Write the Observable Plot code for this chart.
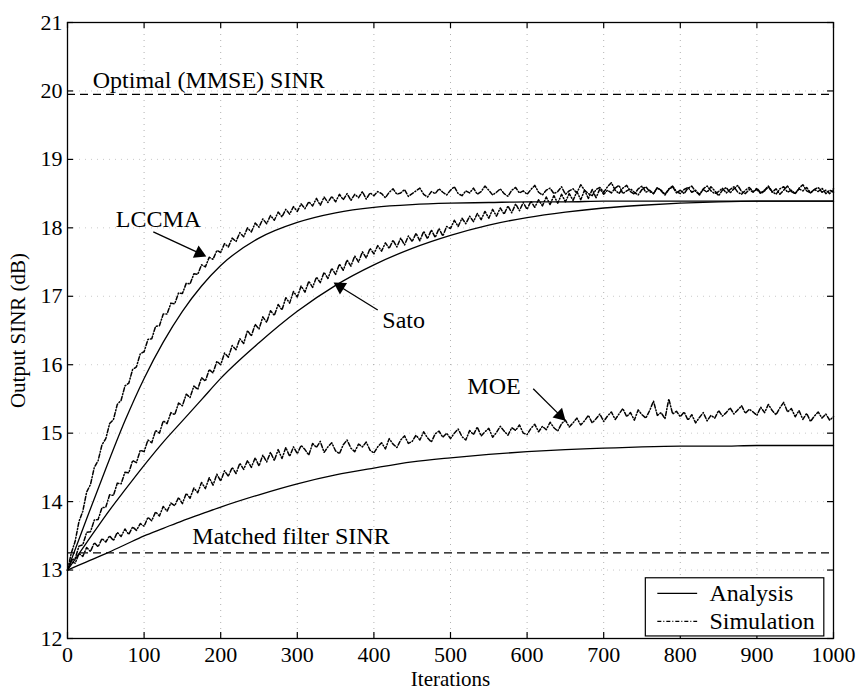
<!DOCTYPE html>
<html>
<head>
<meta charset="utf-8">
<script src="https://cdn.jsdelivr.net/npm/d3@7"></script>
<script src="https://cdn.jsdelivr.net/npm/@observablehq/plot@0.6"></script>
<style>
  body { margin: 0; background: #fff; }
  #chart svg { display: block; }
</style>
</head>
<body>
<div id="chart"></div>
<script>
// Tick values
const xTicks = [0, 100, 200, 300, 400, 500, 600, 700, 800, 900, 1000];
const yTicks = [12, 13, 14, 15, 16, 17, 18, 19, 20, 21];

// Reference SINR levels (dB)
const mmseSINR = 19.95;
const matchedSINR = 13.25;

// Analytical curves, sampled at these iterations
const analysisIter = [0, 25, 50, 75, 100, 125, 150, 175, 200, 250, 300, 350, 400, 450, 500, 550, 600, 650, 700, 750, 800, 850, 900, 950, 1000];
const lccmaAnalysis = [13.0, 13.75, 14.48, 15.18, 15.8, 16.33, 16.78, 17.15, 17.45, 17.85, 18.08, 18.22, 18.3, 18.34, 18.36, 18.37, 18.38, 18.38, 18.39, 18.39, 18.39, 18.39, 18.39, 18.39, 18.39];
const satoAnalysis  = [13.0, 13.4, 13.8, 14.17, 14.53, 14.87, 15.18, 15.49, 15.8, 16.32, 16.78, 17.16, 17.46, 17.7, 17.89, 18.04, 18.15, 18.23, 18.29, 18.33, 18.36, 18.38, 18.39, 18.39, 18.39];
const moeAnalysis   = [13.0, 13.12, 13.24, 13.37, 13.5, 13.61, 13.72, 13.82, 13.92, 14.1, 14.26, 14.39, 14.49, 14.58, 14.64, 14.69, 14.73, 14.76, 14.78, 14.8, 14.81, 14.81, 14.82, 14.82, 14.82];

// Simulated curves, one value every 5 iterations (0 ... 1000)
const simStep = 5;
const lccmaSim = [
  13.0, 13.25, 13.42, 13.71, 13.86, 14.14, 14.25, 14.5, 14.6, 14.83, 14.92, 15.14, 15.2, 15.42, 15.48, 15.69, 15.73, 15.93, 15.97, 16.16,
  16.19, 16.37, 16.38, 16.56, 16.57, 16.74, 16.74, 16.9, 16.89, 17.05, 17.04, 17.19, 17.18, 17.33, 17.32, 17.46, 17.43, 17.57, 17.54, 17.67,
  17.64, 17.77, 17.72, 17.85, 17.8, 17.93, 17.87, 18.0, 17.94, 18.07, 18.01, 18.13, 18.06, 18.18, 18.11, 18.23, 18.16, 18.27, 18.2, 18.31,
  18.24, 18.35, 18.28, 18.38, 18.32, 18.43, 18.33, 18.45, 18.37, 18.46, 18.38, 18.49, 18.41, 18.5, 18.4, 18.49, 18.44, 18.53, 18.42, 18.51,
  18.47, 18.53, 18.5, 18.44, 18.52, 18.57, 18.49, 18.51, 18.56, 18.46, 18.5, 18.54, 18.58, 18.49, 18.45, 18.53, 18.5, 18.57, 18.52, 18.48,
  18.55, 18.6, 18.5, 18.47, 18.54, 18.51, 18.58, 18.49, 18.53, 18.61, 18.55, 18.48, 18.52, 18.57, 18.5, 18.46, 18.55, 18.59, 18.51, 18.54,
  18.49, 18.56, 18.62, 18.52, 18.48, 18.55, 18.58, 18.5, 18.53, 18.6, 18.49, 18.54, 18.57, 18.51, 18.63, 18.55, 18.5, 18.47, 18.56, 18.59,
  18.52, 18.6, 18.66, 18.55, 18.5, 18.58, 18.62, 18.53, 18.49, 18.57, 18.61, 18.52, 18.55, 18.5, 18.59, 18.54, 18.48, 18.56, 18.6, 18.51,
  18.55, 18.5, 18.58, 18.61, 18.53, 18.49, 18.56, 18.52, 18.6, 18.54, 18.47, 18.55, 18.59, 18.51, 18.57, 18.62, 18.53, 18.5, 18.56, 18.52,
  18.58, 18.51, 18.55, 18.61, 18.53, 18.49, 18.57, 18.6, 18.52, 18.55, 18.5, 18.58, 18.63, 18.54, 18.51, 18.56, 18.59, 18.52, 18.55, 18.5, 18.57
];
const satoSim = [
  13.0, 13.14, 13.17, 13.35, 13.37, 13.55, 13.56, 13.73, 13.74, 13.91, 13.92, 14.1, 14.09, 14.27, 14.26, 14.43, 14.42, 14.6, 14.57, 14.75,
  14.73, 14.9, 14.86, 15.04, 15.0, 15.18, 15.14, 15.3, 15.27, 15.44, 15.4, 15.57, 15.52, 15.69, 15.64, 15.81, 15.76, 15.93, 15.88, 16.05,
  16.0, 16.17, 16.11, 16.28, 16.22, 16.38, 16.31, 16.5, 16.42, 16.59, 16.52, 16.7, 16.62, 16.79, 16.72, 16.88, 16.8, 16.98, 16.9, 17.07,
  16.99, 17.15, 17.06, 17.22, 17.13, 17.28, 17.2, 17.35, 17.26, 17.41, 17.32, 17.47, 17.38, 17.53, 17.44, 17.59, 17.5, 17.65, 17.56, 17.7,
  17.62, 17.74, 17.66, 17.78, 17.7, 17.82, 17.72, 17.85, 17.75, 17.88, 17.8, 17.92, 17.81, 17.95, 17.84, 17.97, 17.86, 17.99, 17.88, 18.02,
  17.99, 18.11, 18.02, 18.14, 18.06, 18.17, 18.09, 18.21, 18.12, 18.24, 18.14, 18.27, 18.17, 18.29, 18.2, 18.32, 18.22, 18.35, 18.25, 18.37,
  18.27, 18.39, 18.3, 18.41, 18.32, 18.45, 18.34, 18.47, 18.36, 18.49, 18.38, 18.5, 18.4, 18.53, 18.41, 18.55, 18.43, 18.56, 18.44, 18.57,
  18.49, 18.55, 18.51, 18.58, 18.62, 18.5, 18.54, 18.57, 18.52, 18.48, 18.56, 18.6, 18.53, 18.5, 18.58, 18.55, 18.49, 18.57, 18.61, 18.53,
  18.5, 18.56, 18.59, 18.52, 18.55, 18.48, 18.57, 18.61, 18.54, 18.5, 18.53, 18.58, 18.51, 18.56, 18.6, 18.52, 18.49, 18.55, 18.59, 18.53,
  18.56, 18.5, 18.54, 18.6, 18.52, 18.57, 18.49, 18.55, 18.61, 18.53, 18.5, 18.57, 18.54, 18.59, 18.51, 18.56, 18.53, 18.58, 18.5, 18.55, 18.52
];
const moeSim = [
  13.0, 13.12, 13.1, 13.24, 13.2, 13.33, 13.27, 13.4, 13.34, 13.46, 13.41, 13.5, 13.43, 13.55, 13.49, 13.6, 13.52, 13.63, 13.58, 13.68,
  13.64, 13.77, 13.72, 13.85, 13.79, 13.93, 13.86, 13.98, 13.94, 14.06, 13.97, 14.12, 14.05, 14.2, 14.13, 14.28, 14.19, 14.35, 14.24, 14.4,
  14.3, 14.45, 14.37, 14.5, 14.41, 14.56, 14.47, 14.6, 14.5, 14.64, 14.52, 14.68, 14.58, 14.72, 14.6, 14.76, 14.63, 14.79, 14.66, 14.8,
  14.7, 14.82, 14.76, 14.68, 14.85, 14.79, 14.88, 14.72, 14.8, 14.86, 14.74, 14.7, 14.83, 14.9, 14.78, 14.73, 14.84, 14.8, 14.87, 14.75,
  14.71, 14.8, 14.86, 14.77, 14.92, 14.84, 14.79, 14.9, 14.96, 14.85, 14.88, 14.97, 14.9, 15.02, 14.93, 14.87, 14.99, 15.03, 14.94, 15.0,
  14.92, 15.0, 15.06, 14.95, 14.9, 15.04, 14.98, 15.09, 14.96, 15.02, 15.07, 14.94, 15.01, 15.1, 15.03, 14.97, 15.08, 15.04, 15.12, 15.0,
  14.98, 15.07, 15.13, 15.02, 15.1, 15.05, 15.16, 15.08, 15.03, 15.14, 15.19, 15.09, 15.15, 15.22, 15.12, 15.18, 15.26, 15.15, 15.21, 15.28,
  15.17, 15.25, 15.31, 15.2, 15.28, 15.36, 15.24, 15.3, 15.19, 15.34, 15.27, 15.22, 15.33, 15.47, 15.26, 15.3, 15.21, 15.5, 15.28, 15.32,
  15.24, 15.31, 15.19, 15.27, 15.15, 15.23, 15.3, 15.18, 15.26, 15.22, 15.33, 15.25, 15.3, 15.37, 15.28, 15.34, 15.4, 15.29, 15.35, 15.31,
  15.26, 15.38, 15.3, 15.42, 15.33, 15.27, 15.37, 15.45, 15.31, 15.36, 15.24, 15.33, 15.2, 15.29, 15.17, 15.25, 15.31, 15.22, 15.28, 15.19, 15.24
];

// Curve labels and their pointer arrows (data units)
const curveLabels = [
  { text: "Optimal (MMSE) SINR", x: 33, y: 20.15 },
  { text: "Matched filter SINR", x: 163, y: 13.49 },
  { text: "LCCMA", x: 63, y: 18.12 },
  { text: "Sato", x: 411, y: 16.65 },
  { text: "MOE", x: 522, y: 15.68 }
];
const pointers = [
  { x1: 112, y1: 17.94, x2: 172, y2: 17.63 },
  { x1: 405, y1: 16.80, x2: 356, y2: 17.14 },
  { x1: 608, y1: 15.65, x2: 643, y2: 15.26 }
];
const legendLabels = ["Analysis", "Simulation"];

// ---- layout ----
const W = 857, H = 693;
const mL = 67, mR = 24, mT = 22, mB = 55;
const kx = (W - mL - mR) / 1000;       // px per iteration
const ky = (H - mT - mB) / 9;          // px per dB
const simDash = "4,2,1,2";
const serif = "'Liberation Serif', 'Times New Roman', serif";

const toRows = (xs, ys) => ys.map((v, i) => ({ x: xs[i], y: v }));
const simRows = ys => ys.map((v, i) => ({ x: i * simStep, y: v }));

const analysisSeries = [lccmaAnalysis, satoAnalysis, moeAnalysis].map(s => toRows(analysisIter, s));
const simSeries = [lccmaSim, satoSim, moeSim].map(simRows);

// screen-space heading of each pointer, for the filled arrow heads
const heading = d => Math.atan2((d.x2 - d.x1) * kx, (d.y2 - d.y1) * ky) * 180 / Math.PI;

const chart = Plot.plot({
  width: W,
  height: H,
  marginLeft: mL,
  marginRight: mR,
  marginTop: mT,
  marginBottom: mB,
  style: { fontFamily: serif, fontSize: "22px", color: "black", background: "white" },
  x: { domain: [0, 1000] },
  y: { domain: [12, 21] },
  marks: [
    Plot.gridX(xTicks, { stroke: "#666", strokeOpacity: 0.5, strokeDasharray: "1,5" }),
    Plot.gridY(yTicks, { stroke: "#666", strokeOpacity: 0.35, strokeDasharray: "1,5" }),
    Plot.axisX(xTicks, { tickSize: 0, tickPadding: 8, label: null, fontSize: 22, tickFormat: d => String(d) }),
    Plot.axisY(yTicks, { tickSize: 0, tickPadding: 5, label: null, fontSize: 22, tickFormat: d => String(d) }),
    // inward ticks on all four sides
    Plot.ruleX(xTicks, { y1: 12, y2: 12 + 6 / ky, strokeWidth: 1.2 }),
    Plot.ruleX(xTicks, { y1: 21, y2: 21 - 6 / ky, strokeWidth: 1.2 }),
    Plot.ruleY(yTicks, { x1: 0, x2: 6 / kx, strokeWidth: 1.2 }),
    Plot.ruleY(yTicks, { x1: 1000, x2: 1000 - 6 / kx, strokeWidth: 1.2 }),
    // reference levels
    Plot.ruleY([mmseSINR], { stroke: "black", strokeWidth: 1.2, strokeDasharray: "8,5" }),
    Plot.ruleY([matchedSINR], { stroke: "black", strokeWidth: 1.2, strokeDasharray: "8,5" }),
    // simulated and analytical curves
    ...simSeries.map(s => Plot.line(s, { x: "x", y: "y", stroke: "black", strokeWidth: 1.5, strokeDasharray: simDash })),
    ...analysisSeries.map(s => Plot.line(s, { x: "x", y: "y", stroke: "black", strokeWidth: 1.3, curve: "monotone-x" })),
    // labels and pointers
    Plot.text(curveLabels, { x: "x", y: "y", text: "text", textAnchor: "start", fontSize: 24, fill: "black" }),
    Plot.link(pointers, { x1: "x1", y1: "y1", x2: "x2", y2: "y2", stroke: "black", strokeWidth: 1.3 }),
    Plot.dot(pointers, { x: "x2", y: "y2", symbol: "triangle", r: 5, fill: "black", stroke: "none", rotate: heading }),
    // legend
    Plot.rect([0], { x1: 755, x2: 988, y1: 12.03, y2: 12.88, fill: "white", stroke: "black", strokeWidth: 1.2 }),
    Plot.link([0], { x1: 770, x2: 822, y1: 12.66, y2: 12.66, stroke: "black", strokeWidth: 1.3 }),
    Plot.link([0], { x1: 770, x2: 822, y1: 12.25, y2: 12.25, stroke: "black", strokeWidth: 1.3, strokeDasharray: simDash }),
    Plot.text(legendLabels, { x: 838, y: (d, i) => (i === 0 ? 12.66 : 12.25), text: d => d, textAnchor: "start", fontSize: 24, fill: "black" }),
    // axis titles
    Plot.text(["Output SINR (dB)"], { frameAnchor: "left", dx: -49, rotate: -90, text: d => d, textAnchor: "middle", lineAnchor: "middle", fontSize: 21, fill: "black" }),
    Plot.text(["Iterations"], { frameAnchor: "bottom", dy: 41, text: d => d, textAnchor: "middle", lineAnchor: "middle", fontSize: 21, fill: "black" }),
    Plot.frame({ stroke: "black", strokeWidth: 1.3 })
  ]
});

document.getElementById("chart").append(chart);
</script>
</body>
</html>
